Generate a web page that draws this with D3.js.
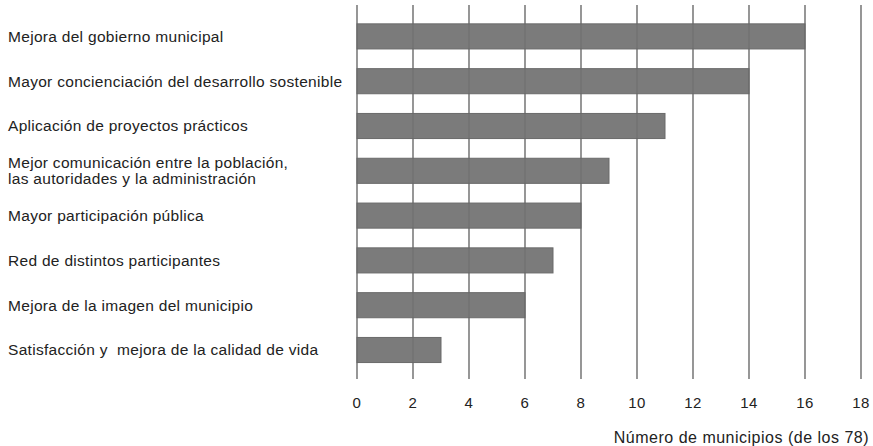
<!DOCTYPE html>
<html><head><meta charset="utf-8">
<script src="https://cdn.jsdelivr.net/npm/d3@7"></script>
<style>body{margin:0;background:#fff}svg{display:block}</style>
</head><body>
<svg id="c" width="873" height="446"></svg>
<script>
const categories = [
  ["Mejora del gobierno municipal"],
  ["Mayor concienciación del desarrollo sostenible"],
  ["Aplicación de proyectos prácticos"],
  ["Mejor comunicación entre la población,", "las autoridades y la administración"],
  ["Mayor participación pública"],
  ["Red de distintos participantes"],
  ["Mejora de la imagen del municipio"],
  ["Satisfacción y  mejora de la calidad de vida"]
];
const values = [16, 14, 11, 9, 8, 7, 6, 3];
const tickValues = [0, 2, 4, 6, 8, 10, 12, 14, 16, 18];
const axisTitle = "Número de municipios (de los 78)";

const svg = d3.select("#c");
const font = "'Liberation Sans', Arial, Helvetica, sans-serif";
const x = d3.scaleLinear().domain([0, 18]).range([357, 861]);
const y = d3.scaleBand().domain(d3.range(categories.length)).range([14, 372.4]).paddingInner(0.44).paddingOuter(0.22);

// gridlines
svg.append("g").selectAll("line").data(tickValues).join("line")
  .attr("x1", d => x(d)).attr("x2", d => x(d))
  .attr("y1", 5).attr("y2", 379)
  .attr("stroke", "#8a8a8a").attr("stroke-width", 1.4);

// bars
svg.append("g").selectAll("rect").data(values).join("rect")
  .attr("x", x(0)).attr("y", (d, i) => y(i))
  .attr("width", d => x(d) - x(0)).attr("height", y.bandwidth())
  .attr("fill", "#7b7b7b").attr("stroke", "#6a6a6a").attr("stroke-width", 1);

// gridlines faintly over bars
svg.append("g").selectAll("line").data(tickValues).join("line")
  .attr("x1", d => x(d)).attr("x2", d => x(d))
  .attr("y1", 5).attr("y2", 379)
  .attr("stroke", "#666").attr("stroke-opacity", 0.5).attr("stroke-width", 1.2);

// category labels
const lab = svg.append("g").selectAll("text").data(categories).join("text")
  .attr("x", 8)
  .attr("font-family", font).attr("font-size", 15.5).attr("letter-spacing", 0.3)
  .attr("fill", "#222").style("white-space", "pre");
lab.each(function(lines, i) {
  const t = d3.select(this);
  const cy = y(i) + y.bandwidth() / 2;
  const lh = 16.5;
  lines.forEach((l, k) => {
    t.append("tspan").attr("x", 8)
      .attr("y", cy + (k - (lines.length - 1) / 2) * lh)
      .attr("dy", "0.35em").text(l);
  });
});

// tick labels
svg.append("g").selectAll("text").data(tickValues).join("text")
  .attr("x", d => x(d)).attr("y", 403).attr("dy", "0.35em")
  .attr("text-anchor", "middle")
  .attr("font-family", font).attr("font-size", 15).attr("letter-spacing", 0.5).attr("fill", "#222")
  .text(d => d);

svg.append("text").attr("x", 869).attr("y", 437).attr("dy", "0.35em")
  .attr("text-anchor", "end")
  .attr("font-family", font).attr("font-size", 16).attr("letter-spacing", 0.5).attr("fill", "#222")
  .text(axisTitle);
</script>
</body></html>
